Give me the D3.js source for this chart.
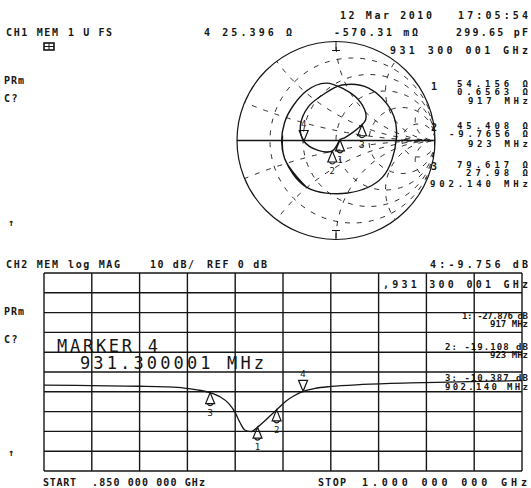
<!DOCTYPE html>
<html>
<head>
<meta charset="utf-8">
<script src="https://cdn.jsdelivr.net/npm/d3@7/dist/d3.min.js"></script>
<style>
  html, body { margin: 0; padding: 0; background: #fff; }
  svg { display: block; }
  text { font-family: "DejaVu Sans Mono", "Liberation Mono", monospace; font-weight: bold; fill: #161616; }
</style>
</head>
<body>
<svg id="chart" width="531" height="488"></svg>
<script>
// ---- sweep settings ----
const sweepStartMHz = 850;
const sweepStopMHz = 1000;
const refLevelDb = 0;
const dbPerDiv = 10;

// ---- CH2 log magnitude trace (MHz, dB) ----
const magFreq = [850, 860, 870, 880, 888, 894, 898, 902.14, 905, 908, 910, 911.5, 913, 915, 917, 920, 923, 926, 928.5, 931.300001, 935, 940, 950, 965, 980, 1000];
const magDb   = [-6.6, -6.8, -7.0, -7.2, -7.5, -8.1, -9.0, -10.387, -12.3, -16.0, -20.5, -25.5, -29.3, -30.1, -27.876, -23.6, -19.108, -14.6, -12.0, -9.756, -8.3, -7.3, -6.3, -5.5, -5.0, -4.3];

// ---- CH1 Smith trace (MHz, reflection coefficient re / im) ----
const smithFreq = [850, 858, 866, 874, 880, 886, 891, 896, 899, 902.14, 908, 912, 917, 920, 923, 927, 931.300001, 935, 940, 945, 950, 957, 963, 968, 975, 982, 989, 995, 1000];
const smithRe   = [-0.30, -0.52, -0.52, -0.30, -0.10, 0.08, 0.22, 0.30, 0.30, 0.263, 0.16, 0.09, 0.040, 0.005, -0.037, -0.18, -0.326, -0.36, -0.28, -0.12, 0.06, 0.33, 0.56, 0.61, 0.47, 0.12, -0.30, -0.52, -0.54];
const smithIm   = [-0.47, -0.18, 0.18, 0.50, 0.58, 0.52, 0.42, 0.28, 0.21, 0.159, 0.075, 0.03, 0.006, -0.055, -0.106, -0.10, -0.005, 0.15, 0.34, 0.47, 0.56, 0.53, 0.30, 0.02, -0.37, -0.53, -0.47, -0.18, 0.05];

// ---- markers ----
const markerIds   = [1, 2, 3, 4];
const markerFreq  = [917, 923, 902.14, 931.300001];
const markerDb    = [-27.876, -19.108, -10.387, -9.756];
const markerR     = [54.156, 45.408, 79.617, 25.396];   // ohms
const markerX     = [0.6563, -9.7656, 27.98, -0.57031]; // ohms
const activeMarker = 4;
const z0 = 50;

// ---- Smith chart grid values ----
const gridResistance = [0.2, 0.5, 1, 2, 5];
const gridReactance  = [0.2, 0.5, 1, 2, 5];

const svg = d3.select("#chart");
const ink = "#161616";

// text helper: optional w stretches the string over a fixed width
function label(txt, x, y, opt = {}) {
  const t = svg.append("text")
    .attr("x", x).attr("y", y)
    .attr("text-anchor", opt.anchor || "start")
    .style("font-size", (opt.size || 10) + "px")
    .text(txt);
  if (opt.w) t.attr("textLength", opt.w).attr("lengthAdjust", "spacing");
  else t.style("letter-spacing", (opt.ls != null ? opt.ls : 2.6) + "px");
  if (opt.normal) t.style("font-weight", "normal");
  return t;
}

// ================= header =================
label("12 Mar 2010", 340, 19, { w: 92 });
label("17:05:54", 458, 19, { w: 70 });
label("CH1 MEM", 6, 36, { w: 52 });
label("1 U FS", 68, 36, { w: 44 });
label("4 25.396 Ω", 204, 36, { w: 88 });
label("-570.31 mΩ", 334, 36, { w: 84 });
label("299.65 pF", 456, 36, { w: 72 });
label("931 300 001 GHz", 390, 54, { w: 138 });
// small boxed status glyph
svg.append("rect").attr("x", 44).attr("y", 43).attr("width", 10).attr("height", 7)
  .attr("fill", "none").attr("stroke", ink).attr("stroke-width", 1.6);
svg.append("path").attr("d", "M44,46.5H54M49,43V50").attr("stroke", ink).attr("stroke-width", 1);
label("PRm", 4, 84, { ls: 1 });
label("C?", 4, 102, { ls: 1.5 });
label("↑", 8, 226, { ls: 0 });

// ================= Smith chart =================
const cx = 336, cy = 140.5, R = 99;
const sx = d3.scaleLinear().domain([-1, 1]).range([cx - R, cx + R]);
const sy = d3.scaleLinear().domain([-1, 1]).range([cy + R, cy - R]);
const unit = sx(1) - sx(0);

svg.append("clipPath").attr("id", "smithClip")
  .append("circle").attr("cx", sx(0)).attr("cy", sy(0)).attr("r", unit);

const grid = svg.append("g").attr("clip-path", "url(#smithClip)")
  .attr("fill", "none").attr("stroke", ink).attr("stroke-width", 0.9)
  .attr("stroke-dasharray", "5,7");

gridResistance.forEach(r => {
  grid.append("circle")
    .attr("cx", sx(r / (1 + r))).attr("cy", sy(0))
    .attr("r", unit / (1 + r));
});
gridReactance.forEach(x => {
  [x, -x].forEach(v => {
    grid.append("circle")
      .attr("cx", sx(1)).attr("cy", sy(1 / v))
      .attr("r", unit / Math.abs(v));
  });
});

// outer circle and real axis
svg.append("circle").attr("cx", sx(0)).attr("cy", sy(0)).attr("r", unit)
  .attr("fill", "none").attr("stroke", ink).attr("stroke-width", 1.2);
svg.append("line").attr("x1", sx(-1)).attr("x2", sx(1)).attr("y1", sy(0)).attr("y2", sy(0))
  .attr("stroke", ink).attr("stroke-width", 1.4);
// ticks at the ends of the imaginary axis
svg.append("path")
  .attr("d", `M${sx(0)},${sy(1)}v9M${sx(0) - 4},${sy(1) + 9}h8M${sx(0)},${sy(-1)}v-9M${sx(0) - 4},${sy(-1) - 9}h8`)
  .attr("stroke", ink).attr("stroke-width", 1);

// trace
const smithPts = smithFreq.map((f, i) => [sx(smithRe[i]), sy(smithIm[i])]);
svg.append("path").datum(smithPts)
  .attr("d", d3.line().curve(d3.curveCatmullRom.alpha(0.5)))
  .attr("fill", "none").attr("stroke", ink).attr("stroke-width", 1.4);

function gammaOf(r, x) {
  const nr = r - z0, ni = x, dr = r + z0, di = x;
  const d = dr * dr + di * di;
  return [(nr * dr + ni * di) / d, (ni * dr - nr * di) / d];
}

function drawMarker(px, py, id) {
  const g = svg.append("g").attr("fill", "none").attr("stroke", ink).attr("stroke-width", 1.2);
  if (id === activeMarker) {
    g.append("path").attr("d", `M${px},${py}L${px - 4.5},${py - 11}H${px + 4.5}Z`);
    label(String(id), px, py - 14, { anchor: "middle", size: 9, ls: 0, normal: true });
  } else {
    g.append("path").attr("d", `M${px},${py}L${px - 4.5},${py + 11}H${px + 4.5}Z`);
    g.append("path").attr("d", `M${px - 3},${py + 11}Q${px},${py + 15} ${px + 3},${py + 11}`);
    label(String(id), px, py + 23, { anchor: "middle", size: 9, ls: 0, normal: true });
  }
}

markerIds.forEach((id, i) => {
  const [gr, gi] = gammaOf(markerR[i], markerX[i]);
  drawMarker(sx(gr), sy(gi), id);
});

// Smith marker readouts (tightly stacked, three lines per marker)
const fmtOhm = v => v + " Ω";
label("1", 431, 90, { ls: 0 });
label("2", 431, 131, { ls: 0 });
label("3", 431, 170, { ls: 0 });
label(fmtOhm("54.156"), 457, 87, { w: 71, size: 9 });
label(fmtOhm("0.6563"), 457, 95, { w: 71, size: 9 });
label("917 MHz", 468, 104, { w: 60, size: 9 });
label(fmtOhm("45.408"), 457, 129, { w: 71, size: 9 });
label(fmtOhm("-9.7656"), 449, 137, { w: 79, size: 9 });
label("923 MHz", 468, 147, { w: 60, size: 9 });
label(fmtOhm("79.617"), 457, 168, { w: 71, size: 9 });
label(fmtOhm("27.98"), 466, 176, { w: 62, size: 9 });
label("902.140 MHz", 430, 187, { w: 98, size: 9 });

// ================= CH2 log magnitude =================
label("CH2 MEM", 6, 268, { w: 52 });
label("log MAG", 68, 268, { w: 52 });
label("10 dB/", 150, 268, { w: 44 });
label("REF 0 dB", 207, 268, { w: 60 });
label("4:-9.756 dB", 430, 268, { w: 98 });
label("PRm", 4, 315, { ls: 1 });
label("C?", 4, 343, { ls: 1.5 });
label("↑", 8, 456, { ls: 0 });

const plot = { left: 44, right: 522, top: 273, bottom: 471 };
const x = d3.scaleLinear().domain([sweepStartMHz, sweepStopMHz]).range([plot.left, plot.right]);
const y = d3.scaleLinear()
  .domain([refLevelDb + 5 * dbPerDiv, refLevelDb - 5 * dbPerDiv])
  .range([plot.top, plot.bottom]);

const gridG = svg.append("g").attr("stroke", ink).attr("stroke-width", 1.4);
d3.range(sweepStartMHz, sweepStopMHz + 0.1, (sweepStopMHz - sweepStartMHz) / 10).forEach(f => {
  gridG.append("line").attr("x1", x(f)).attr("x2", x(f)).attr("y1", plot.top).attr("y2", plot.bottom);
});
d3.range(-5, 6).forEach(k => {
  const v = refLevelDb + k * dbPerDiv;
  gridG.append("line").attr("x1", plot.left).attr("x2", plot.right).attr("y1", y(v)).attr("y2", y(v));
});

// active marker entry text
label("MARKER 4", 57, 352, { size: 17, w: 101, normal: true });
label("931.300001 MHz", 80, 369, { size: 17, w: 184, normal: true });

// readout text on the grid
label(",931 300 001 GHz", 383, 288, { w: 145 });
label("1: -27.876 dB", 462, 319, { w: 66, size: 9 });
label("917 MHz", 490, 327, { w: 38, size: 9 });
label("2: -19.108 dB", 445, 350, { w: 83, size: 9 });
label("923 MHz", 490, 358, { w: 38, size: 9 });
label("3: -10.387 dB", 445, 381, { w: 83, size: 9 });
label("902.140 MHz", 445, 390, { w: 83, size: 9 });

// trace
svg.append("path").datum(magFreq.map((f, i) => [x(f), y(magDb[i])]))
  .attr("d", d3.line().curve(d3.curveMonotoneX))
  .attr("fill", "none").attr("stroke", ink).attr("stroke-width", 1.3);

markerIds.forEach((id, i) => drawMarker(x(markerFreq[i]), y(markerDb[i]), id));

label("START", 43, 486, { w: 33 });
label(".850 000 000 GHz", 92, 486, { w: 113 });
label("STOP", 318, 486, { w: 28 });
label("1.000 000 000 GHz", 362, 486, { w: 165 });
</script>
</body>
</html>
